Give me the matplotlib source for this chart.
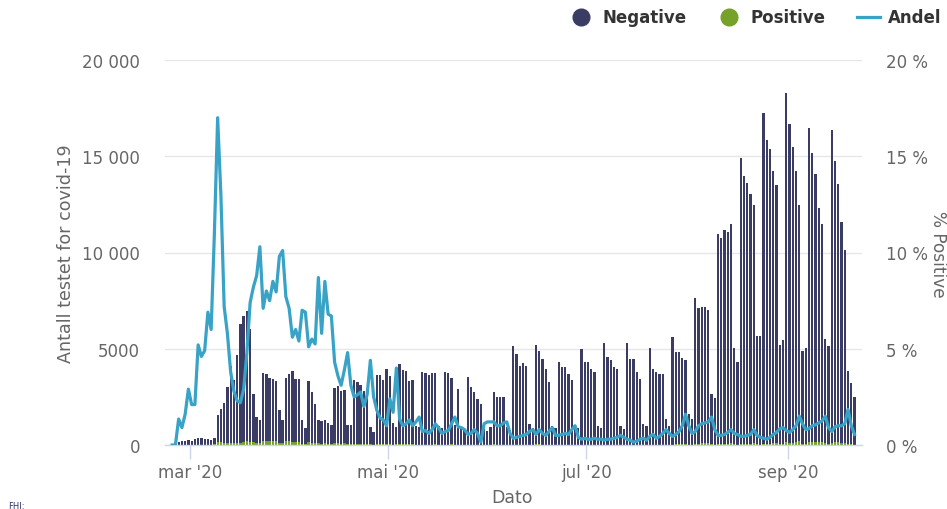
import matplotlib
matplotlib.use("Agg")
import matplotlib.pyplot as plt
import matplotlib.dates as mdates
from matplotlib.lines import Line2D
import pandas as pd
from datetime import datetime

# ---------------- data (daily, 2020-02-24 .. 2020-09-21) ----------------
start_date = "2020-02-24"

negative = [
    20, 40, 150, 200, 180, 250, 200,
    300, 350, 330, 300, 280, 260, 320,
    1400, 1700, 2050, 2900, 4000, 3300, 4600,
    6200, 6550, 6750, 5850, 2500, 1350, 1200,
    3550, 3450, 3300, 3200, 3150, 1700, 1200,
    3270, 3480, 3700, 3270, 3270, 1250, 830,
    3170, 2650, 2030, 1200, 1200, 1200, 1100,
    1000, 2850, 2950, 2750, 2750, 1000, 1000,
    3330, 3220, 3070, 2750, 2800, 930, 680,
    3600, 3600, 3330, 3900, 3530, 1100, 900,
    4150, 3850, 3790, 3270, 3330, 1000, 900,
    3790, 3700, 3640, 3690, 3690, 1000, 900,
    3790, 3700, 3430, 1000, 2860, 900, 800,
    3530, 3010, 2750, 2390, 2130, 800, 700,
    900, 2700, 2490, 2490, 2490, 900, 800,
    5150, 4730, 4100, 4260, 4100, 1100, 900,
    5150, 4830, 4420, 3950, 3270, 1000, 900,
    4310, 4050, 4050, 3690, 3330, 1000, 900,
    4990, 4310, 4310, 3950, 3790, 1000, 900,
    5300, 4570, 4420, 4050, 3950, 1000, 850,
    5300, 4470, 4470, 3790, 3430, 1090, 1000,
    5040, 3950, 3790, 3690, 3690, 1350, 990,
    5610, 4830, 4780, 4470, 4360, 1610, 1350,
    7580, 7070, 7070, 7070, 6910, 2600, 2440,
    10910, 10700, 11120, 11010, 11380, 4990, 4310,
    14860, 13920, 13560, 12990, 12370, 5610, 5650,
    17200, 15790, 15330, 14180, 13400, 5140, 5400,
    18130, 16570, 15380, 14080, 12260, 4830, 4990,
    16310, 15010, 13920, 12160, 11330, 5400, 5090,
    16260, 14600, 13400, 11480, 10030, 3790, 3170,
    2490,
]

positive = [
    0, 0, 2, 2, 3, 7, 4,
    6, 18, 15, 15, 20, 16, 35,
    150, 180, 120, 120, 110, 80, 80,
    110, 150, 200, 180, 140, 80, 90,
    200, 220, 200, 220, 200, 120, 100,
    200, 200, 160, 160, 140, 70, 50,
    130, 120, 90, 90, 60, 80, 60,
    50, 100, 90, 70, 90, 40, 30,
    70, 70, 70, 50, 60, 30, 15,
    60, 40, 40, 30, 60, 20, 30,
    50, 35, 35, 35, 30, 12, 12,
    25, 25, 20, 25, 35, 10, 5,
    25, 25, 35, 15, 25, 8, 6,
    20, 18, 20, 15, 5, 8, 8,
    10, 30, 25, 25, 25, 10, 5,
    18, 18, 18, 20, 22, 8, 7,
    28, 35, 25, 20, 22, 9, 5,
    20, 20, 22, 20, 25, 10, 4,
    15, 15, 13, 12, 13, 3, 3,
    13, 14, 13, 14, 16, 5, 3,
    16, 11, 7, 8, 10, 4, 3,
    23, 22, 13, 17, 22, 11, 6,
    25, 27, 33, 45, 70, 16, 8,
    53, 71, 78, 81, 83, 38, 20,
    55, 54, 61, 72, 91, 30, 24,
    67, 63, 68, 71, 99, 28, 23,
    60, 47, 61, 78, 87, 44, 49,
    136, 108, 123, 141, 184, 53, 40,
    139, 150, 146, 140, 142, 81, 46,
    114, 139, 134, 115, 110, 70, 32,
    14,
]

andel = [
    0.0, 0.0, 1.35, 0.9, 1.6, 2.9, 2.1,
    2.1, 5.2, 4.6, 4.9, 6.9, 6.0, 11.0,
    17.0, 13.0, 7.2, 5.8, 3.8, 2.8, 2.3,
    2.2, 2.9, 4.8, 7.4, 8.2, 8.8, 10.3,
    7.1, 8.0, 7.5, 8.5, 7.95, 9.8, 10.1,
    7.7, 7.1, 5.6, 6.0, 5.4, 7.0, 6.9,
    5.1, 5.5, 5.25, 8.7, 5.8, 8.5, 6.8,
    6.7, 4.3, 3.6, 3.1, 3.9, 4.8, 3.1,
    2.5, 2.6, 2.75, 2.0, 2.6, 4.4, 2.5,
    1.8, 1.4, 1.3, 1.0, 2.4, 1.7, 4.0,
    1.35, 1.0, 1.1, 1.3, 1.0, 1.2, 1.45,
    0.7, 0.75, 0.6, 0.8, 1.1, 0.9, 0.6,
    0.7, 0.75, 1.1, 1.45, 0.95, 0.9, 0.8,
    0.55, 0.6, 0.8, 0.6, 0.15, 1.1, 1.2,
    1.2, 1.2, 1.0, 1.0, 1.15, 1.2, 0.6,
    0.35, 0.4, 0.45, 0.5, 0.55, 0.7, 0.8,
    0.55, 0.8, 0.6, 0.5, 0.7, 0.9, 0.5,
    0.5, 0.55, 0.6, 0.55, 0.8, 1.0, 0.4,
    0.3, 0.35, 0.3, 0.3, 0.35, 0.3, 0.3,
    0.25, 0.3, 0.3, 0.35, 0.4, 0.5, 0.4,
    0.3, 0.25, 0.15, 0.2, 0.3, 0.35, 0.25,
    0.45, 0.55, 0.35, 0.45, 0.6, 0.8, 0.6,
    0.45, 0.55, 0.7, 1.0, 1.6, 1.0, 0.6,
    0.7, 1.0, 1.1, 1.15, 1.2, 1.45, 0.8,
    0.5, 0.5, 0.55, 0.65, 0.8, 0.6, 0.55,
    0.45, 0.45, 0.5, 0.55, 0.8, 0.5, 0.4,
    0.35, 0.3, 0.4, 0.55, 0.65, 0.85, 0.9,
    0.75, 0.65, 0.8, 1.0, 1.5, 1.1, 0.8,
    0.85, 1.0, 1.05, 1.15, 1.25, 1.5, 0.9,
    0.7, 0.95, 1.0, 1.0, 1.1, 1.85, 1.0,
    0.55,
]

left_ticks = [0, 5000, 10000, 15000, 20000]
left_labels = ["0", "5000", "10 000", "15 000", "20 000"]
right_ticks = [0, 5, 10, 15, 20]
right_labels = ["0 %", "5 %", "10 %", "15 %", "20 %"]
x_tick_dates = ["2020-03-01", "2020-05-01", "2020-07-01", "2020-09-01"]
x_tick_labels = ["mar '20", "mai '20", "jul '20", "sep '20"]

# ---------------- style ----------------
NAVY = "#3a3c63"
GREEN = "#76a22a"
TEAL = "#38a3c6"
GREY = "#666666"
GRID = "#e6e6e6"
AXIS = "#ccd6eb"

plt.rcParams["font.family"] = ["DejaVu Sans"]

W, H = 947, 510
fig = plt.figure(figsize=(W / 100, H / 100), dpi=100)

def fx(px):
    return px / W

def fy(py):
    return 1 - py / H

ax = fig.add_axes([fx(165), fy(446), (862 - 165) / W, (446 - 61) / H])
ax2 = ax.twinx()

dates = pd.date_range(start_date, periods=len(negative)) + pd.Timedelta(hours=12)
xd = mdates.date2num(dates.to_pydatetime())

ax.bar(xd, positive, width=0.7, color=GREEN, linewidth=0, zorder=2)
ax.bar(xd, negative, bottom=positive, width=0.7, color=NAVY, linewidth=0, zorder=2)
ax2.plot(xd, andel, color=TEAL, lw=2.3, solid_joinstyle="round", zorder=3)

mar1 = mdates.date2num(datetime(2020, 3, 1))
ax.set_xlim(mar1 - 7.7, mar1 + 206.8)
ax.set_ylim(0, 20000)
ax2.set_ylim(0, 20)

ax.set_yticks(left_ticks)
ax.set_yticklabels(left_labels)
ax2.set_yticks(right_ticks)
ax2.set_yticklabels(right_labels)
ax.set_xticks([mdates.date2num(datetime.fromisoformat(d)) for d in x_tick_dates])
ax.set_xticklabels(x_tick_labels)

ax.yaxis.grid(True, color=GRID, lw=1)
ax.set_axisbelow(True)

for a in (ax, ax2):
    for s in ("top", "left", "right", "bottom"):
        a.spines[s].set_visible(False)
ax.spines["bottom"].set_visible(True)
ax.spines["bottom"].set_color(AXIS)
ax.spines["bottom"].set_linewidth(1)

ax.tick_params(axis="x", length=10, width=1, color=AXIS, labelsize=12,
               labelcolor=GREY, pad=3)
ax.tick_params(axis="y", length=0, labelsize=12, labelcolor=GREY, pad=18)
ax2.tick_params(axis="y", length=0, labelsize=12, labelcolor=GREY, pad=17)

fig.text(fx(66), fy(254), "Antall testet for covid-19", rotation=90,
         ha="center", va="center", fontsize=12.6, color=GREY)
fig.text(fx(938), fy(254), "% Positive", rotation=270,
         ha="center", va="center", fontsize=12.2, color=GREY)
fig.text(fx(512), fy(498), "Dato", ha="center", va="center",
         fontsize=12.5, color=GREY)

# legend
fig.add_artist(Line2D([fx(581)], [fy(18)], marker="o", ms=12, color=NAVY,
                      linestyle="none", transform=fig.transFigure))
fig.text(fx(602), fy(18), "Negative", ha="left", va="center",
         fontsize=12, fontweight="bold", color="#333333")
fig.add_artist(Line2D([fx(729)], [fy(18)], marker="o", ms=12, color=GREEN,
                      linestyle="none", transform=fig.transFigure))
fig.text(fx(750), fy(18), "Positive", ha="left", va="center",
         fontsize=12, fontweight="bold", color="#333333")
fig.add_artist(Line2D([fx(857), fx(880)], [fy(18), fy(18)], lw=2.3, color=TEAL,
                      transform=fig.transFigure))
fig.text(fx(888), fy(18), "Andel", ha="left", va="center",
         fontsize=12, fontweight="bold", color="#333333")

fig.text(fx(8), fy(507), "FHI:", ha="left", va="center", fontsize=6,
         color="#2a2f6b")

fig.savefig("out.png", dpi=100)
